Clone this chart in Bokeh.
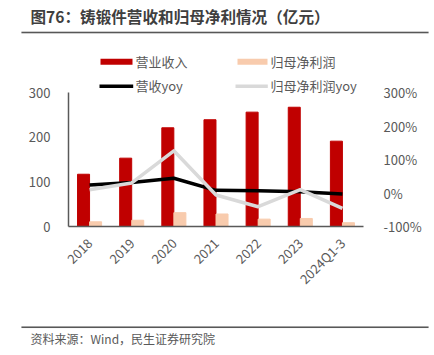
import math
from bokeh.plotting import figure
from bokeh.layouts import column, row
from bokeh.models import (Range1d, LinearAxis, FactorRange, Label, BoxAnnotation,
                          PrintfTickFormatter, FixedTicker, ColumnDataSource, Plot)
from bokeh.core.properties import value
from bokeh.transform import dodge
from bokeh.embed import file_html
from bokeh.resources import INLINE

categories = ["2018", "2019", "2020", "2021", "2022", "2023", "2024Q1-3"]
revenue = [117, 153, 221, 239, 256, 267, 191]
net_profit = [10.5, 14, 31, 28, 16.5, 18, 8.5]
revenue_yoy = [24, 31, 44, 8, 7, 4, -3]
profit_yoy = [10, 30, 126, -6, -41, 10, -46]
left_ticks = [0, 100, 200, 300]
right_ticks = [-100, 0, 100, 200, 300]
title_text = "图76：铸锻件营收和归母净利情况（亿元）"
source_text = "资料来源：Wind，民生证券研究院"

FONT = "Noto Sans CJK SC"
GRAY = "#595959"
W = 434
HEAD_H, MAIN_H, FOOT_H = 40, 278, 37
HAS_FRAME_ALIGN = "frame_align" in Plot.properties()

def no_align(f):
    if HAS_FRAME_ALIGN:
        f.frame_align = False
    return f

def blank(h):
    f = figure(width=W, height=h, x_range=Range1d(0, W), y_range=Range1d(h, 0),
               output_backend="svg", toolbar_location=None, x_axis_type=None,
               y_axis_type=None, min_border=0, outline_line_color=None)
    f.xgrid.visible = False
    f.ygrid.visible = False
    return no_align(f)

# header
head = blank(HEAD_H)
head.quad(left=[21], right=[428], top=[31.3], bottom=[32.7], fill_color=GRAY,
          line_color=GRAY, line_width=0.1)
head.text(x=[30], y=[15], text=[title_text], text_font=value(FONT),
          text_font_size="15.6px", text_font_style="bold", text_color="#3F3F3F",
          text_baseline="middle", text_align="left")

# footer
foot = blank(FOOT_H)
foot.quad(left=[21], right=[428], top=[8], bottom=[9.4], fill_color=GRAY,
          line_color=GRAY, line_width=0.1)
foot.text(x=[30], y=[20], text=[source_text], text_font=value(FONT),
          text_font_size="12px", text_color=GRAY, text_baseline="middle", text_align="left")

# main chart: frame spans page y 40..226 (0 at 226, 300 at ~92)
FRAME_H = 186
left_top = FRAME_H / (134.0 / 300)
right_top = -100 + FRAME_H / (134.0 / 400)

src = ColumnDataSource(dict(cat=categories, rev=revenue, np=net_profit,
                            ryoy=revenue_yoy, pyoy=profit_yoy))

p = figure(width=W, height=MAIN_H, x_range=FactorRange(factors=categories),
           y_range=Range1d(0, left_top), output_backend="svg", toolbar_location=None,
           min_border_left=68, min_border_right=71, min_border_top=0,
           min_border_bottom=MAIN_H - FRAME_H, outline_line_color=None)
no_align(p)
p.xgrid.visible = False
p.ygrid.visible = False
p.extra_y_ranges = {"pct": Range1d(-100, right_top)}

p.vbar(x=dodge("cat", -0.143, range=p.x_range), top="rev", width=0.285,
       color="#C00000", source=src)
p.vbar(x=dodge("cat", 0.143, range=p.x_range), top="np", width=0.285,
       color="#F8CBAD", source=src)
p.line(x="cat", y="ryoy", y_range_name="pct", line_color="#000000",
       line_width=3.5, line_join="round", source=src)
p.line(x="cat", y="pyoy", y_range_name="pct", line_color="#D9D9D9",
       line_width=3.5, line_join="round", source=src)

ya = p.yaxis[0]
ya.ticker = FixedTicker(ticks=left_ticks)
ya.bounds = (0, 300)
ya.major_tick_line_color = None
ya.minor_tick_line_color = None
ya.axis_line_color = GRAY
ya.axis_line_width = 1.5
ya.major_label_text_font = FONT
ya.major_label_text_font_size = "13px"
ya.major_label_text_color = GRAY
ya.major_label_standoff = 12

ra = LinearAxis(y_range_name="pct", ticker=FixedTicker(ticks=right_ticks),
                formatter=PrintfTickFormatter(format="%d%%"), bounds=(-100, 300))
ra.major_tick_line_color = None
ra.minor_tick_line_color = None
ra.axis_line_color = None
ra.major_label_text_font = FONT
ra.major_label_text_font_size = "13px"
ra.major_label_text_color = GRAY
ra.major_label_standoff = 14
p.add_layout(ra, "right")

xa = p.xaxis[0]
xa.major_tick_line_color = None
xa.minor_tick_line_color = None
xa.axis_line_color = GRAY
xa.axis_line_width = 1.5
xa.major_label_orientation = math.pi / 4
xa.major_label_text_font = FONT
xa.major_label_text_font_size = "13px"
xa.major_label_text_color = GRAY
xa.major_label_standoff = 8

# legend (page coordinates -> screen units relative to frame left/bottom)
FL, FB = 68, 226

def lab(sx, sy, text):
    p.add_layout(Label(x=sx - FL, y=FB - sy, x_units="screen", y_units="screen",
                       text=text, text_font=FONT, text_font_size="13px",
                       text_color=GRAY, text_baseline="middle", text_align="left"))

def box(sx0, sx1, sy0, sy1, color):
    p.add_layout(BoxAnnotation(left=sx0 - FL, right=sx1 - FL, top=FB - sy0,
                               bottom=FB - sy1, left_units="screen",
                               right_units="screen", top_units="screen",
                               bottom_units="screen", fill_color=color,
                               fill_alpha=1, line_color=None))

box(100, 132, 58.3, 64.3, "#C00000")
box(237, 267, 58.3, 64.3, "#F8CBAD")
box(99, 132.7, 84, 87.5, "#000000")
box(235, 267.3, 84, 87.5, "#D9D9D9")
lab(135, 61, "营业收入")
lab(135, 85, "营收yoy")
lab(270, 61, "归母净利润")
lab(270, 85, "归母净利润yoy")

if HAS_FRAME_ALIGN:
    layout = column(head, p, foot, spacing=0)
else:
    layout = column(row(head), p, row(foot), spacing=0)
open("out.html", "w").write(file_html(layout, INLINE))
